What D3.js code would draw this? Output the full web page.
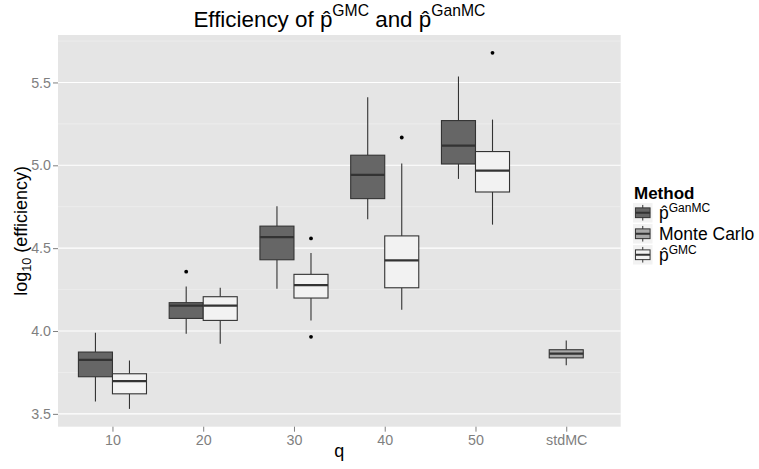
<!DOCTYPE html>
<html>
<head>
<meta charset="utf-8">
<script src="https://cdn.jsdelivr.net/npm/d3@7"></script>
<style>
  body { margin: 0; background: #fff; }
  svg { font-family: "Liberation Sans", Arial, Helvetica, sans-serif; }
</style>
</head>
<body>
<div id="chart"></div>
<script>
var categories = ["10", "20", "30", "40", "50", "stdMC"];
var qLevels = ["10", "20", "30", "40", "50"];
var methods = ["GanMC", "Monte Carlo", "GMC"];

// five-number boxes (lower whisker, q1, median, q3, upper whisker)
var ganLow  = [3.574, 3.983, 4.255, 4.674, 4.918];
var ganQ1   = [3.724, 4.076, 4.430, 4.799, 5.008];
var ganMed  = [3.826, 4.153, 4.567, 4.942, 5.119];
var ganQ3   = [3.873, 4.171, 4.633, 5.061, 5.270];
var ganHigh = [3.989, 4.269, 4.753, 5.411, 5.536];
var ganOut  = [[], [4.358], [], [], []];

var gmcLow  = [3.530, 3.923, 4.064, 4.128, 4.642];
var gmcQ1   = [3.621, 4.064, 4.199, 4.261, 4.839];
var gmcMed  = [3.697, 4.153, 4.277, 4.426, 4.968];
var gmcQ3   = [3.742, 4.207, 4.342, 4.574, 5.083];
var gmcHigh = [3.822, 4.261, 4.471, 5.011, 5.276];
var gmcOut  = [[], [], [4.559, 3.965], [5.168], [5.679]];

var mcStats = [3.794, 3.838, 3.864, 3.887, 3.943];
var mcOut = [];

var yTicks = [3.5, 4.0, 4.5, 5.0, 5.5];
var yMinor = [3.75, 4.25, 4.75, 5.25, 5.75];

var fills = { "GanMC": "#666666", "Monte Carlo": "#a9a9a9", "GMC": "#f2f2f2" };

// build box records
var boxes = [];
qLevels.forEach(function (q, i) {
	boxes.push({ cat: q, method: "GanMC", slot: -1, low: ganLow[i], q1: ganQ1[i], med: ganMed[i], q3: ganQ3[i], high: ganHigh[i], out: ganOut[i] });
	boxes.push({ cat: q, method: "GMC", slot: 1, low: gmcLow[i], q1: gmcQ1[i], med: gmcMed[i], q3: gmcQ3[i], high: gmcHigh[i], out: gmcOut[i] });
});
boxes.push({ cat: "stdMC", method: "Monte Carlo", slot: 0, low: mcStats[0], q1: mcStats[1], med: mcStats[2], q3: mcStats[3], high: mcStats[4], out: mcOut });

var W = 759, H = 469;
var panel = { left: 58, top: 35, right: 620.7, bottom: 426.7 };

var allVals = [];
boxes.forEach(function (b) { allVals.push(b.low, b.high); b.out.forEach(function (o) { allVals.push(o); }); });
var ext = d3.extent(allVals);
var pad = (ext[1] - ext[0]) * 0.05;

var x = d3.scalePoint().domain(categories).range([panel.left, panel.right]).padding(0.6);
var y = d3.scaleLinear().domain([ext[0] - pad, ext[1] + pad]).range([panel.bottom, panel.top]);
var boxW = x.step() * 0.375;

var svg = d3.select("#chart").append("svg")
	.attr("width", W)
	.attr("height", H);

svg.append("rect").attr("width", W).attr("height", H).attr("fill", "#fff");

svg.append("rect")
	.attr("x", panel.left)
	.attr("y", panel.top)
	.attr("width", panel.right - panel.left)
	.attr("height", panel.bottom - panel.top)
	.attr("fill", "#e5e5e5");

// grid
svg.selectAll(".minor").data(yMinor).enter().append("line")
	.attr("x1", panel.left).attr("x2", panel.right)
	.attr("y1", function (d) { return y(d); }).attr("y2", function (d) { return y(d); })
	.style("stroke", "#f2f2f2").style("stroke-width", "0.6px");
svg.selectAll(".major").data(yTicks).enter().append("line")
	.attr("x1", panel.left).attr("x2", panel.right)
	.attr("y1", function (d) { return y(d); }).attr("y2", function (d) { return y(d); })
	.style("stroke", "#ffffff").style("stroke-width", "1.1px");

// axes
var yAxis = svg.append("g")
	.attr("transform", "translate(" + panel.left + ",0)")
	.call(d3.axisLeft(y).tickValues(yTicks).tickFormat(d3.format(".1f")).tickSize(5).tickPadding(2));
var xAxis = svg.append("g")
	.attr("transform", "translate(0," + panel.bottom + ")")
	.call(d3.axisBottom(x).tickSize(5).tickPadding(3));
[yAxis, xAxis].forEach(function (a) {
	a.select(".domain").remove();
	a.selectAll(".tick line").style("stroke", "#7f7f7f").style("stroke-width", "1px");
	a.selectAll(".tick text").style("fill", "#7f7f7f").style("font-size", "14.3px").style("font-family", null);
});

// boxes
var bx = function (b) { return x(b.cat) + b.slot * boxW / 2; };
var gb = svg.append("g").selectAll("g").data(boxes).enter().append("g");

gb.append("line")
	.attr("x1", bx).attr("x2", bx)
	.attr("y1", function (b) { return y(b.high); }).attr("y2", function (b) { return y(b.q3); })
	.style("stroke", "#333").style("stroke-width", "1.1px");
gb.append("line")
	.attr("x1", bx).attr("x2", bx)
	.attr("y1", function (b) { return y(b.q1); }).attr("y2", function (b) { return y(b.low); })
	.style("stroke", "#333").style("stroke-width", "1.1px");
gb.append("rect")
	.attr("x", function (b) { return bx(b) - boxW / 2; })
	.attr("width", boxW)
	.attr("y", function (b) { return y(b.q3); })
	.attr("height", function (b) { return y(b.q1) - y(b.q3); })
	.style("fill", function (b) { return fills[b.method]; })
	.style("stroke", "#333").style("stroke-width", "1.1px");
gb.append("line")
	.attr("x1", function (b) { return bx(b) - boxW / 2; })
	.attr("x2", function (b) { return bx(b) + boxW / 2; })
	.attr("y1", function (b) { return y(b.med); }).attr("y2", function (b) { return y(b.med); })
	.style("stroke", "#333").style("stroke-width", "2.2px");
gb.selectAll("circle").data(function (b) { return b.out.map(function (o) { return { b: b, v: o }; }); })
	.enter().append("circle")
	.attr("cx", function (d) { return bx(d.b); })
	.attr("cy", function (d) { return y(d.v); })
	.attr("r", 1.9)
	.style("fill", "#000");

// text helper: p-hat with a superscript (caller drops back down by `rise`)
function hatLabel(sel, sup, supSize, rise) {
	sel.append("tspan").text("p\u0302");
	sel.append("tspan").attr("dy", -rise).style("font-size", supSize).text(sup);
}

// title
var title = svg.append("text")
	.attr("x", (panel.left + panel.right) / 2)
	.attr("y", 26.7)
	.attr("text-anchor", "middle")
	.style("font-size", "22.4px")
	.style("fill", "#000");
title.append("tspan").text("Efficiency of ");
hatLabel(title, "GMC", "15.7px", 11);
title.append("tspan").attr("dy", 11).text(" and ");
hatLabel(title, "GanMC", "15.7px", 11);

// axis titles
svg.append("text")
	.attr("x", (panel.left + panel.right) / 2)
	.attr("y", 457)
	.attr("text-anchor", "middle")
	.style("font-size", "18px")
	.text("q");

var yt = svg.append("text")
	.attr("transform", "translate(27," + ((panel.top + panel.bottom) / 2) + ") rotate(-90)")
	.attr("text-anchor", "middle")
	.style("font-size", "18px");
yt.append("tspan").text("log");
yt.append("tspan").attr("dy", 4).style("font-size", "12.6px").text("10");
yt.append("tspan").attr("dy", -4).text(" (efficiency)");

// legend
var lg = svg.append("g").attr("transform", "translate(633,0)");
lg.append("text")
	.attr("x", 1).attr("y", 198.7)
	.style("font-size", "17px").style("font-weight", "bold")
	.text("Method");

var keyS = 19.5, keyTop = 203, keyGap = 21;
var keys = lg.selectAll(".key").data(methods).enter().append("g")
	.attr("transform", function (d, i) { return "translate(0," + (keyTop + i * keyGap) + ")"; });
keys.append("rect").attr("width", keyS).attr("height", keyS).attr("fill", "#f2f2f2");
keys.append("line")
	.attr("x1", keyS / 2).attr("x2", keyS / 2).attr("y1", keyS * 0.1).attr("y2", keyS * 0.9)
	.style("stroke", "#333").style("stroke-width", "1px");
keys.append("rect")
	.attr("x", keyS * 0.125).attr("width", keyS * 0.75)
	.attr("y", keyS * 0.25).attr("height", keyS * 0.5)
	.style("fill", function (d) { return fills[d]; })
	.style("stroke", "#333").style("stroke-width", "1px");
keys.append("line")
	.attr("x1", keyS * 0.125).attr("x2", keyS * 0.875).attr("y1", keyS / 2).attr("y2", keyS / 2)
	.style("stroke", "#333").style("stroke-width", "2px");

keys.each(function (d) {
	var t = d3.select(this).append("text")
		.attr("x", 26).attr("y", keyS / 2 + 6.2)
		.style("font-size", "17.5px");
	if (d === "Monte Carlo") t.text(d);
	else hatLabel(t, d, "12px", 7);
});
</script>
</body>
</html>
